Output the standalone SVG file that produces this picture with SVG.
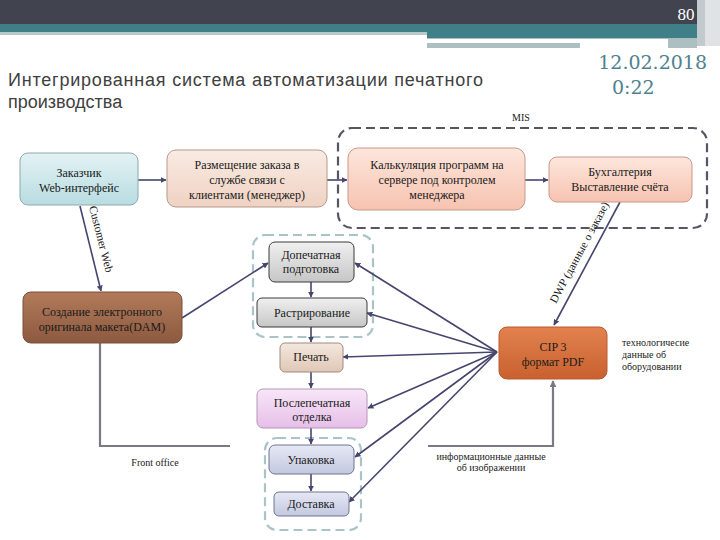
<svg xmlns="http://www.w3.org/2000/svg" width="720" height="540" viewBox="0 0 720 540">
<defs>
<style>
.t{font-family:"Liberation Serif","Times New Roman",serif;font-size:12px;fill:#1a1a1a;text-anchor:middle}
.s{font-family:"Liberation Serif","Times New Roman",serif;font-size:10px;fill:#1a1a1a}
.l{font-family:"Liberation Serif","Times New Roman",serif;font-size:11.5px;fill:#1a1a1a}
.h{font-family:"Liberation Sans",Arial,sans-serif;font-size:18px;fill:#404040}
.d{font-family:"DejaVu Serif",serif;font-size:19px;fill:#4f8290}
.c{stroke:#45456e;stroke-width:1.6;fill:none}
.g{stroke:#7a7a84;stroke-width:2.2;fill:none}
.mis{stroke:#555563;stroke-width:2.2;fill:none;stroke-dasharray:9 5}
.lb{stroke:#a9c3c7;stroke-width:2.2;fill:none;stroke-dasharray:9 5}
</style>
<marker id="a" viewBox="0 0 10 10" refX="9" refY="5" markerWidth="6" markerHeight="6" markerUnits="userSpaceOnUse" orient="auto"><path d="M0,0 L10,5 L0,10 z" fill="#45456e"/></marker>
<marker id="ag" viewBox="0 0 10 10" refX="9" refY="5" markerWidth="7" markerHeight="7" markerUnits="userSpaceOnUse" orient="auto"><path d="M0,0 L10,5 L0,10 z" fill="#7a7a84"/></marker>
<linearGradient id="gCyan" x1="0" y1="0" x2="0" y2="1"><stop offset="0" stop-color="#e3f2f4"/><stop offset="1" stop-color="#b8dce1"/></linearGradient>
<linearGradient id="gPeach" x1="0" y1="0" x2="0" y2="1"><stop offset="0" stop-color="#f9ebe3"/><stop offset="1" stop-color="#efd2c2"/></linearGradient>
<linearGradient id="gSalmon" x1="0" y1="0" x2="0" y2="1"><stop offset="0" stop-color="#fde6dc"/><stop offset="1" stop-color="#f7c3b0"/></linearGradient>
<linearGradient id="gGray" x1="0" y1="0" x2="0" y2="1"><stop offset="0" stop-color="#f0f0f0"/><stop offset="1" stop-color="#c6c6c6"/></linearGradient>
<linearGradient id="gBeige" x1="0" y1="0" x2="0" y2="1"><stop offset="0" stop-color="#f4e8df"/><stop offset="1" stop-color="#dfc7b6"/></linearGradient>
<linearGradient id="gPink" x1="0" y1="0" x2="0" y2="1"><stop offset="0" stop-color="#f8e6f8"/><stop offset="1" stop-color="#e6bfe8"/></linearGradient>
<linearGradient id="gLav" x1="0" y1="0" x2="0" y2="1"><stop offset="0" stop-color="#e6e8f4"/><stop offset="1" stop-color="#c3c8e0"/></linearGradient>
<linearGradient id="gBrown" x1="0" y1="0" x2="0" y2="1"><stop offset="0" stop-color="#b27a5a"/><stop offset="1" stop-color="#8c5a40"/></linearGradient>
<linearGradient id="gOrange" x1="0" y1="0" x2="0" y2="1"><stop offset="0" stop-color="#e2824f"/><stop offset="1" stop-color="#c8612f"/></linearGradient>
</defs>

<!-- header -->
<rect x="0" y="0" width="720" height="24" fill="#41444f"/>
<rect x="0" y="24" width="697" height="8" fill="#3f7f87"/>
<rect x="0" y="32" width="427" height="3" fill="#b8c9cc"/>
<rect x="427" y="32" width="270" height="6" fill="#3f7f87"/>
<rect x="427" y="38" width="270" height="10" fill="#aebfc2"/>
<rect x="427" y="39" width="241" height="4" fill="#ffffff"/>
<rect x="580" y="43" width="88" height="5" fill="#ffffff"/>
<rect x="697" y="0" width="8" height="46" fill="#c3cacd"/>
<rect x="705" y="0" width="15" height="46" fill="#dfe3e5"/>
<text x="686" y="20" font-family="Liberation Serif, serif" font-size="17" fill="#ffffff" text-anchor="middle">80</text>

<text class="h" x="8" y="86" textLength="475" lengthAdjust="spacing">Интегрированная система автоматизации печатного</text>
<text class="h" x="8" y="108">производства</text>
<text class="d" x="707" y="69" text-anchor="end">12.02.2018</text>
<text class="d" x="612" y="94">0:22</text>
<text x="521" y="121" class="s" text-anchor="middle">MIS</text>

<!-- groups -->
<rect x="338" y="128" width="369" height="100" rx="14" class="mis"/>
<rect x="253" y="235" width="120" height="102" rx="12" class="lb"/>
<rect x="265" y="438" width="96" height="92" rx="12" class="lb"/>

<!-- connectors -->
<g id="connectors">
<line x1="138" y1="180" x2="166" y2="180" class="c" marker-end="url(#a)"/>
<line x1="327" y1="180" x2="347" y2="180" class="c" marker-end="url(#a)"/>
<line x1="525" y1="180" x2="548" y2="180" class="c" marker-end="url(#a)"/>
<line x1="620" y1="202" x2="554" y2="325" class="c" marker-end="url(#a)"/>
<line x1="80" y1="206" x2="101" y2="291" class="c" marker-end="url(#a)"/>
<line x1="182" y1="318" x2="268" y2="263" class="c" marker-end="url(#a)"/>
<line x1="311" y1="282" x2="311" y2="297" class="c" marker-end="url(#a)"/>
<line x1="311" y1="327" x2="311" y2="342" class="c" marker-end="url(#a)"/>
<line x1="311" y1="372" x2="311" y2="388" class="c" marker-end="url(#a)"/>
<line x1="311" y1="428" x2="311" y2="444" class="c" marker-end="url(#a)"/>
<line x1="311" y1="474" x2="311" y2="491" class="c" marker-end="url(#a)"/>
<line x1="497" y1="352" x2="355" y2="263" class="c" marker-end="url(#a)"/>
<line x1="497" y1="352" x2="367" y2="313" class="c" marker-end="url(#a)"/>
<line x1="497" y1="352" x2="343" y2="357" class="c" marker-end="url(#a)"/>
<line x1="497" y1="352" x2="368" y2="408" class="c" marker-end="url(#a)"/>
<line x1="497" y1="352" x2="355" y2="457" class="c" marker-end="url(#a)"/>
<line x1="497" y1="352" x2="349" y2="502" class="c" marker-end="url(#a)"/>
<polyline points="100,343 100,446 230,446" class="g"/>
<polyline points="428,446 553,446 553,381" class="g" marker-end="url(#ag)"/>
<text class="l" transform="translate(89,207) rotate(75.6)">Customer Web</text>
<text class="l" transform="translate(556,304) rotate(-61.8)">DWP (данные о заказе)</text>
</g>

<!-- nodes -->
<g id="n-zakazchik"><rect x="20" y="153" width="118" height="52" rx="8" fill="url(#gCyan)" stroke="#8fa9ad"/><text class="t" x="79" y="177">Заказчик</text><text class="t" x="79" y="192">Web-интерфейс</text></g>
<g id="n-razmeshchenie"><rect x="167" y="150" width="160" height="57" rx="9" fill="url(#gPeach)" stroke="#b5998a"/><text class="t" x="247" y="169">Размещение заказа в</text><text class="t" x="247" y="184">службе связи  с</text><text class="t" x="247" y="199">клиентами (менеджер)</text></g>
<g id="n-kalkulyatsiya"><rect x="348" y="148" width="177" height="62" rx="10" fill="url(#gSalmon)" stroke="#c9998a"/><text class="t" x="437" y="169">Калькуляция программ на</text><text class="t" x="437" y="184">сервере под контролем</text><text class="t" x="437" y="199">менеджера</text></g>
<g id="n-bukhgalteriya"><rect x="549" y="157" width="143" height="45" rx="8" fill="url(#gSalmon)" stroke="#c9998a"/><text class="t" x="620" y="176">Бухгалтерия</text><text class="t" x="620" y="191">Выставление счёта</text></g>
<g id="n-dopechatnaya"><rect x="269" y="242" width="85" height="40" rx="6" fill="url(#gGray)" stroke="#3a3a3a"/><text class="t" x="311" y="259">Допечатная</text><text class="t" x="311" y="273">подготовка</text></g>
<g id="n-rastrirovanie"><rect x="257" y="298" width="110" height="29" rx="5" fill="url(#gGray)" stroke="#3a3a3a"/><text class="t" x="312" y="317">Растрирование</text></g>
<g id="n-pechat"><rect x="280" y="343" width="63" height="29" rx="5" fill="url(#gBeige)" stroke="#a08a7a"/><text class="t" x="311" y="361">Печать</text></g>
<g id="n-poslepechatnaya"><rect x="257" y="389" width="110" height="39" rx="6" fill="url(#gPink)" stroke="#b496b6"/><text class="t" x="312" y="407">Послепечатная</text><text class="t" x="312" y="421">отделка</text></g>
<g id="n-upakovka"><rect x="269" y="445" width="85" height="29" rx="6" fill="url(#gLav)" stroke="#6e7590"/><text class="t" x="311" y="464">Упаковка</text></g>
<g id="n-dostavka"><rect x="274" y="492" width="75" height="24" rx="5" fill="url(#gLav)" stroke="#6e7590"/><text class="t" x="311" y="508">Доставка</text></g>
<g id="n-sozdanie"><rect x="23" y="292" width="159" height="51" rx="8" fill="url(#gBrown)" stroke="#7a5038"/><text class="t" x="102" y="316">Создание электронного</text><text class="t" x="102" y="331">оригинала макета(DAM)</text></g>
<g id="n-cip3"><rect x="499" y="327" width="108" height="52" rx="8" fill="url(#gOrange)" stroke="#b85a30"/><text class="t" x="553" y="351">CIP 3</text><text class="t" x="553" y="366">формат PDF</text></g>

<!-- free labels -->
<text class="s" x="622" y="346">технологичесие</text>
<text class="s" x="622" y="358">данные об</text>
<text class="s" x="622" y="370">оборудовании</text>
<text class="s" x="155" y="466" text-anchor="middle">Front office</text>
<text class="s" x="491" y="460" text-anchor="middle">информационные данные</text>
<text class="s" x="491" y="471" text-anchor="middle">об изображении</text>
</svg>
